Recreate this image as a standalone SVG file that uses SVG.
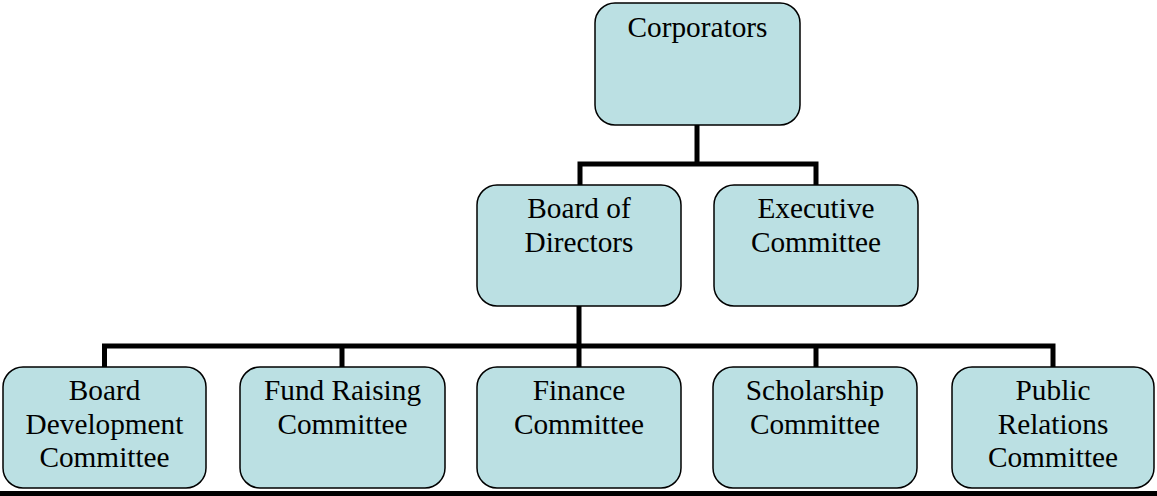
<svg xmlns="http://www.w3.org/2000/svg" width="1157" height="496" viewBox="0 0 1157 496">
  <style>
    .box { fill: #BBE0E3; stroke: #000; stroke-width: 1.5; }
    .lbl { font-family: "Liberation Serif", "Times New Roman", serif; font-size: 29.3px; fill: #000; text-anchor: middle; }
    .wire { fill: none; stroke: #000; stroke-width: 5; stroke-linejoin: miter; stroke-linecap: square; }
  </style>
  <rect width="1157" height="496" fill="#fff"/>

  <!-- connectors -->
  <g id="connectors">
    <path class="wire" d="M697 126 V164 M580 164 H816 M580 164 V184 M816 164 V184"/>
    <path class="wire" d="M579 307 V346 M104.5 346 H1053 M104.5 346 V366 M342 346 V366 M579 346 V366 M816 346 V366 M1053 346 V366"/>
  </g>

  <!-- top level -->
  <g id="corporators">
    <rect class="box" x="595" y="3" width="205" height="122" rx="20" ry="20"/>
    <text class="lbl" x="697.5" y="37">Corporators</text>
  </g>

  <!-- second level -->
  <g id="board-of-directors">
    <rect class="box" x="477" y="185" width="204" height="121" rx="20" ry="20"/>
    <text class="lbl" x="579" y="218">Board of</text>
    <text class="lbl" x="579" y="252">Directors</text>
  </g>
  <g id="executive-committee">
    <rect class="box" x="714" y="185" width="204" height="121" rx="20" ry="20"/>
    <text class="lbl" x="816" y="218">Executive</text>
    <text class="lbl" x="816" y="252">Committee</text>
  </g>

  <!-- committees -->
  <g id="board-development-committee">
    <rect class="box" x="3" y="367" width="203" height="121" rx="20" ry="20"/>
    <text class="lbl" x="104.5" y="400">Board</text>
    <text class="lbl" x="104.5" y="434">Development</text>
    <text class="lbl" x="104.5" y="467">Committee</text>
  </g>
  <g id="fund-raising-committee">
    <rect class="box" x="240" y="367" width="205" height="121" rx="20" ry="20"/>
    <text class="lbl" x="342.5" y="400">Fund Raising</text>
    <text class="lbl" x="342.5" y="434">Committee</text>
  </g>
  <g id="finance-committee">
    <rect class="box" x="477" y="367" width="204" height="121" rx="20" ry="20"/>
    <text class="lbl" x="579" y="400">Finance</text>
    <text class="lbl" x="579" y="434">Committee</text>
  </g>
  <g id="scholarship-committee">
    <rect class="box" x="713" y="367" width="204" height="121" rx="20" ry="20"/>
    <text class="lbl" x="815" y="400">Scholarship</text>
    <text class="lbl" x="815" y="434">Committee</text>
  </g>
  <g id="public-relations-committee">
    <rect class="box" x="952" y="367" width="202" height="121" rx="20" ry="20"/>
    <text class="lbl" x="1053" y="400">Public</text>
    <text class="lbl" x="1053" y="434">Relations</text>
    <text class="lbl" x="1053" y="467">Committee</text>
  </g>

  <!-- rule along the foot of the page -->
  <rect x="0" y="491" width="1157" height="5" fill="#000"/>
</svg>
